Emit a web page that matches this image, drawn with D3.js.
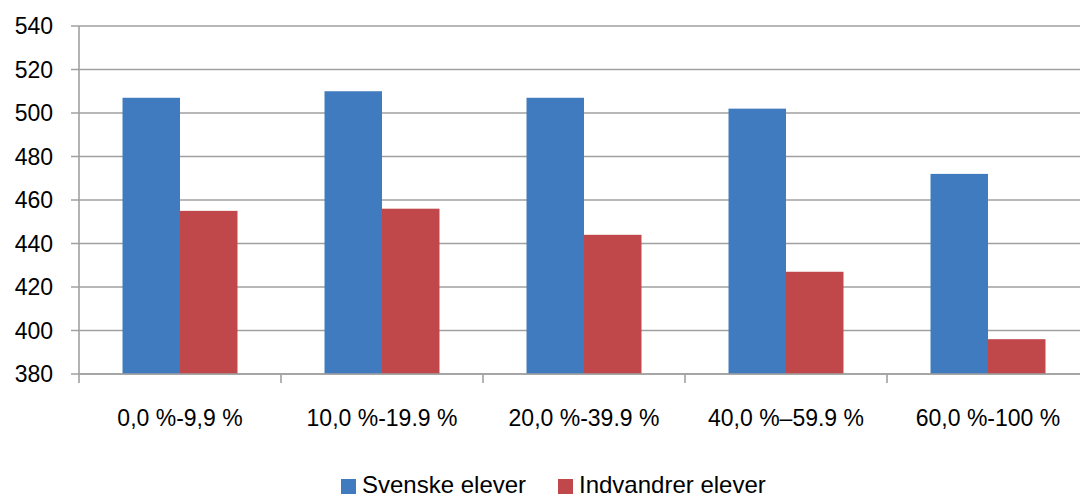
<!DOCTYPE html>
<html>
<head>
<meta charset="utf-8">
<script src="https://cdn.jsdelivr.net/npm/d3@7"></script>
<style>
  body { margin: 0; background: #fff; }
  svg { display: block; font-family: "Liberation Sans", Arial, sans-serif; }
</style>
</head>
<body>
<div id="chart"></div>
<script>
const categories = ["0,0 %-9,9 %", "10,0 %-19.9 %", "20,0 %-39.9 %", "40,0 %\u201359.9 %", "60,0 %-100 %"];
const seriesNames = ["Svenske elever", "Indvandrer elever"];
const svenske = [507, 510, 507, 502, 472];
const indvandrer = [455, 456, 444, 427, 396];
const yTicks = [380, 400, 420, 440, 460, 480, 500, 520, 540];
const colors = ["#3F7BBE", "#C0474A"];

const width = 1080, height = 496;
const margin = { top: 26, left: 79, right: -9, bottom: 122 };

const svg = d3.select("#chart").append("svg")
    .attr("width", width)
    .attr("height", height);

const x0 = d3.scaleBand()
    .domain(categories)
    .range([margin.left, width - margin.right])
    .padding(0);

const x1 = d3.scaleBand()
    .domain(seriesNames)
    .range([0, x0.bandwidth()])
    .paddingInner(0)
    .paddingOuter(0.757);

const y = d3.scaleLinear()
    .domain([380, 540])
    .range([height - margin.bottom, margin.top]);

// gridlines + y labels
const yAxis = svg.append("g");
yAxis.selectAll("line")
    .data(yTicks)
    .join("line")
    .attr("x1", margin.left - 8)
    .attr("x2", width)
    .attr("y1", d => y(d))
    .attr("y2", d => y(d))
    .attr("stroke", "#a0a0a0")
    .attr("stroke-width", 1.6);

yAxis.selectAll("text")
    .data(yTicks)
    .join("text")
    .attr("x", 53)
    .attr("y", d => y(d))
    .attr("dy", "0.35em")
    .attr("text-anchor", "end")
    .attr("font-size", "23px")
    .attr("fill", "#000")
    .text(d => d);

// bars
const data = categories.map((c, i) => ({ cat: c, vals: [svenske[i], indvandrer[i]] }));

svg.append("g")
    .selectAll("g")
    .data(data)
    .join("g")
    .attr("transform", d => `translate(${x0(d.cat)},0)`)
    .selectAll("rect")
    .data(d => d.vals.map((v, j) => ({ name: seriesNames[j], v: v, j: j })))
    .join("rect")
    .attr("x", d => x1(d.name))
    .attr("width", x1.bandwidth())
    .attr("y", d => y(d.v))
    .attr("height", d => y(380) - y(d.v))
    .attr("fill", d => colors[d.j]);

// axes lines and ticks
const base = y(380);
svg.append("line")
    .attr("x1", margin.left).attr("x2", margin.left)
    .attr("y1", margin.top).attr("y2", base + 9)
    .attr("stroke", "#a0a0a0").attr("stroke-width", 1.6);

svg.append("line")
    .attr("x1", margin.left).attr("x2", width)
    .attr("y1", base).attr("y2", base)
    .attr("stroke", "#a0a0a0").attr("stroke-width", 1.6);

svg.append("g")
    .selectAll("line")
    .data(categories.slice(1))
    .join("line")
    .attr("x1", d => x0(d)).attr("x2", d => x0(d))
    .attr("y1", base).attr("y2", base + 9)
    .attr("stroke", "#a0a0a0").attr("stroke-width", 1.6);

// category labels
svg.append("g")
    .selectAll("text")
    .data(categories)
    .join("text")
    .attr("x", d => x0(d) + x0.bandwidth() / 2)
    .attr("y", 426)
    .attr("text-anchor", "middle")
    .attr("font-size", "23px")
    .attr("fill", "#000")
    .text(d => d);

// legend
const legendX = [341, 558];
const legend = svg.append("g")
    .selectAll("g")
    .data(seriesNames)
    .join("g")
    .attr("transform", (d, i) => `translate(${legendX[i]},479)`);

legend.append("rect")
    .attr("width", 15)
    .attr("height", 15)
    .attr("fill", (d, i) => colors[i]);

legend.append("text")
    .attr("x", 21)
    .attr("y", 14)
    .attr("font-size", "24px")
    .attr("fill", "#000")
    .text(d => d);
</script>
</body>
</html>
